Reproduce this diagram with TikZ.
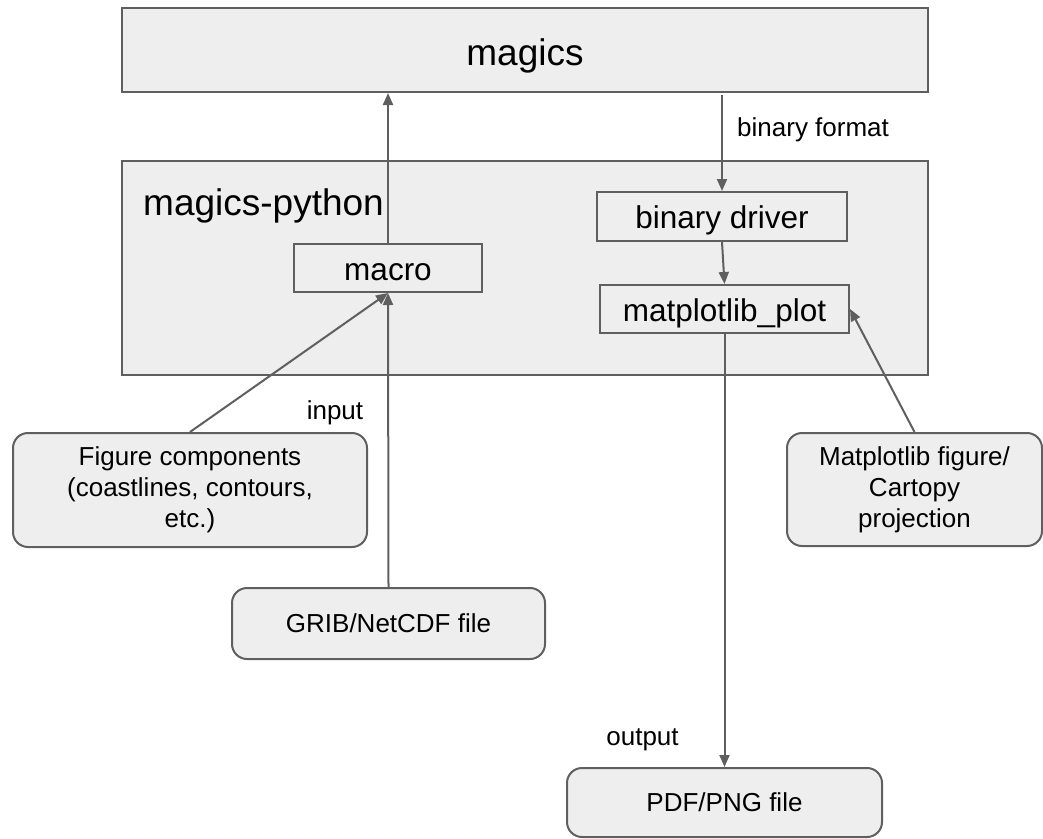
\documentclass[tikz,border=0pt]{standalone}
\usepackage{fontspec}
\setmainfont{Liberation Sans}
\usetikzlibrary{arrows.meta}

\definecolor{linegray}{HTML}{5F5F5F}
\definecolor{boxgray}{HTML}{EEEEEE}

\begin{document}
\begin{tikzpicture}[x=1pt,y=-1pt,
    box/.style={draw=linegray,line width=2pt,fill=boxgray,inner sep=0pt,align=center},
    roundbox/.style={box,rounded corners=15pt},
    bigfont/.style={font=\fontsize{37}{44}\selectfont},
    midfont/.style={font=\fontsize{31.5}{38}\selectfont},
    smallfont/.style={font=\fontsize{26}{31}\selectfont}]

      \useasboundingbox (0,0) rectangle (1043,838);

      \begin{scope}[every node/.style={box}]
        \node[bigfont,text height=36.5pt,text depth=6pt,
              minimum width=806pt,minimum height=84pt]  (magics) at (525,50)  {magics};
        \node[minimum width=806pt,minimum height=214pt] (pyth)   at (525,268) {};
      \end{scope}

      \node[bigfont,anchor=base west,inner sep=0pt] (pythlabel) at (143,215) {magics-python};

      \begin{scope}[every node/.style={box,midfont,text height=30pt,text depth=6pt}]
        \node[minimum width=188pt,minimum height=48pt] (macro)  at (388,268)   {macro};
        \node[minimum width=250pt,minimum height=49pt] (driver) at (722,216.5) {binary driver};
        \node[minimum width=249pt,minimum height=48pt] (mplot)  at (724.5,309) {matplotlib\_plot};
      \end{scope}

      \begin{scope}[every node/.style={roundbox,smallfont}]
        \node[minimum width=354pt,minimum height=114pt] (figcomp) at (190,490)     {Figure components\\(coastlines, contours,\\etc.)};
        \node[minimum width=255pt,minimum height=113pt] (mplfig)  at (914.5,489.5) {Matplotlib figure/\\Cartopy\\projection};
        \node[text height=23.5pt,text depth=5.5pt,
              minimum width=313pt,minimum height=71pt]  (grib)    at (388.5,623.5) {GRIB/NetCDF file};
        \node[text height=23.5pt,text depth=5.5pt,
              minimum width=315pt,minimum height=69pt]  (pdf)     at (724.5,802.5) {PDF/PNG file};
      \end{scope}

      \begin{scope}[every node/.style={smallfont,inner sep=0pt}]
        \node[anchor=west] (fmtlabel) at (737,130) {binary format};
        \node (inlabel)  at (335,413)   {input};
        \node (outlabel) at (642.5,740) {output};
      \end{scope}

      \begin{scope}[every edge/.style={draw=linegray,line width=2pt,-{Triangle[length=12pt,width=10pt]}}]
        \path (macro.north)               edge (macro.north |- magics.south);
        \path (driver.north |- 0,95)      edge (driver.north);
        \path (driver.south)              edge (mplot.north);
        \path (mplot.south)               edge (pdf.north);
        \path (grib.north)                edge (macro.south);
        \path (figcomp.north)             edge (macro.south);
        \path (mplfig.north)              edge (mplot.east);
      \end{scope}

    \end{tikzpicture}
\end{document}
